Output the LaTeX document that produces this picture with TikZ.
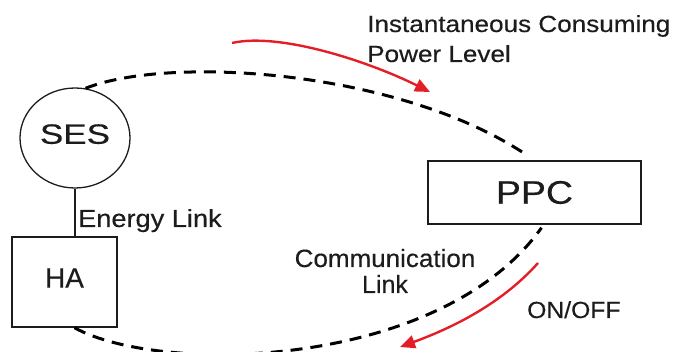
\documentclass[tikz,border=0pt]{standalone}
\usepackage{fontspec}
\setmainfont{Liberation Sans}[FakeBold=0.35]
\usetikzlibrary{shapes.geometric,arrows.meta}
\definecolor{arrowred}{RGB}{228,30,38}
\definecolor{ink}{RGB}{28,28,28}
\begin{document}
\begin{tikzpicture}[x=1pt,y=-1pt,
  box/.style={draw=ink, line width=1.5pt, rectangle, inner sep=0pt, text=ink},
  lbl/.style={inner sep=0pt, text=ink},
  comm/.style={draw=black, line width=3pt, dash pattern=on 12pt off 8pt},
  redarrow/.style={draw=arrowred, line width=2.4pt, -{Triangle[length=15pt,width=13pt]}}]
\useasboundingbox (0,0) rectangle (677,352);
% nodes
\node[ellipse, draw=ink, line width=1.3pt, minimum width=110pt, minimum height=100pt,
      inner sep=0pt, text=ink, text depth=8pt, font=\fontsize{28}{32}\selectfont]
      (SES) at (75,138) {\scalebox{1.25}[1]{SES}};
\node[box, minimum width=105pt, minimum height=90pt, text depth=8pt,
      font=\fontsize{28}{32}\selectfont] (HA) at (64.5,282) {HA};
\node[box, minimum width=213pt, minimum height=63pt,
      font=\fontsize{32.6}{36}\selectfont] (PPC) at (534.5,192.5) {\scalebox{1.15}[1]{PPC}};
% energy link
\draw[ink, line width=1.2pt] (SES.south) -- (SES.south |- HA.north);
% communication links
\draw[comm] (SES.78) .. controls (170,55) and (400,70) .. (PPC.north) [shorten >=9pt];
\draw[comm] ([xshift=10pt]HA.south) .. controls (160,375) and (440,370) .. ([xshift=7pt,yshift=-3pt]PPC.south);
% red arrows
\coordinate (r1s) at (232,43);
\coordinate (r1e) at (430,92);
\draw[redarrow] (r1s) .. controls (280,32) and (370,62) .. (r1e);
\coordinate (r2s) at (538,263);
\coordinate (r2e) at (400,347);
\draw[redarrow] (r2s) .. controls (505,300) and (460,325) .. (r2e);
% labels
\node[lbl, anchor=base west, font=\fontsize{23.3}{28}\selectfont] (ic1) at (367,32)
      {\scalebox{1.12}[1]{Instantaneous Consuming}};
\node[lbl, anchor=base west, font=\fontsize{23.3}{28}\selectfont] (ic2) at (367,62)
      {\scalebox{1.12}[1]{Power Level}};
\node[lbl, anchor=base west, font=\fontsize{24.7}{28}\selectfont] (el) at (78,227)
      {\scalebox{1.1}[1]{Energy Link}};
\node[lbl, anchor=base, font=\fontsize{25}{28}\selectfont] (cl1) at (385,267)
      {\scalebox{1.04}[1]{Communication}};
\node[lbl, anchor=base, font=\fontsize{25}{28}\selectfont] (cl2) at (385,293) {Link};
\node[lbl, anchor=base west, font=\fontsize{23.3}{28}\selectfont] (onoff) at (527,318)
      {\scalebox{1.06}[1]{ON/OFF}};
\end{tikzpicture}
\end{document}
